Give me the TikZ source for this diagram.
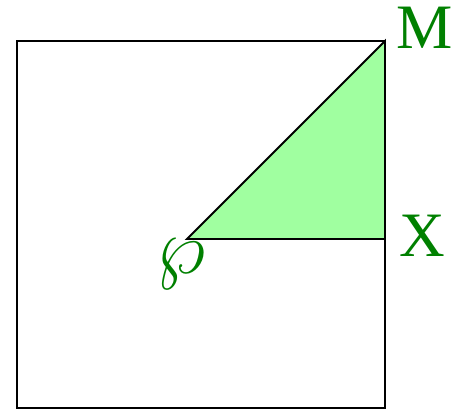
\documentclass[tikz,border=0pt]{standalone}
\usepackage{fontspec}
\setmainfont{Liberation Serif}
\definecolor{lgreen}{RGB}{160,255,160}
\definecolor{dgreen}{RGB}{0,128,0}
\begin{document}
\begin{tikzpicture}[x=0.02cm,y=-0.02cm,
        lbl/.style={text=dgreen, inner sep=0pt, font=\fontsize{36}{40}\selectfont},
        edge/.style={draw=black, line width=1.1pt}]
        \useasboundingbox (0,0) rectangle (452,411);
        \coordinate (sq1) at (17,41);
        \coordinate (sq2) at (385,408);
        \coordinate (P) at (187,239);
        \coordinate (M) at (385,41);
        \coordinate (X) at (385,239);
        \fill[lgreen] (P) -- (M) -- (X) -- cycle;
        \draw[edge] (sq1) rectangle (sq2);
        \draw[edge] (P) -- (M) -- (X) -- cycle;
% Beschriftungen
        \node[lbl] (lP) at (181,264) {\scalebox{1.8}{$\wp$}};
        \node[lbl] (lM) at (425,28) {M};
        \node[lbl] (lX) at (422,236) {X};
    \end{tikzpicture}
\end{document}
